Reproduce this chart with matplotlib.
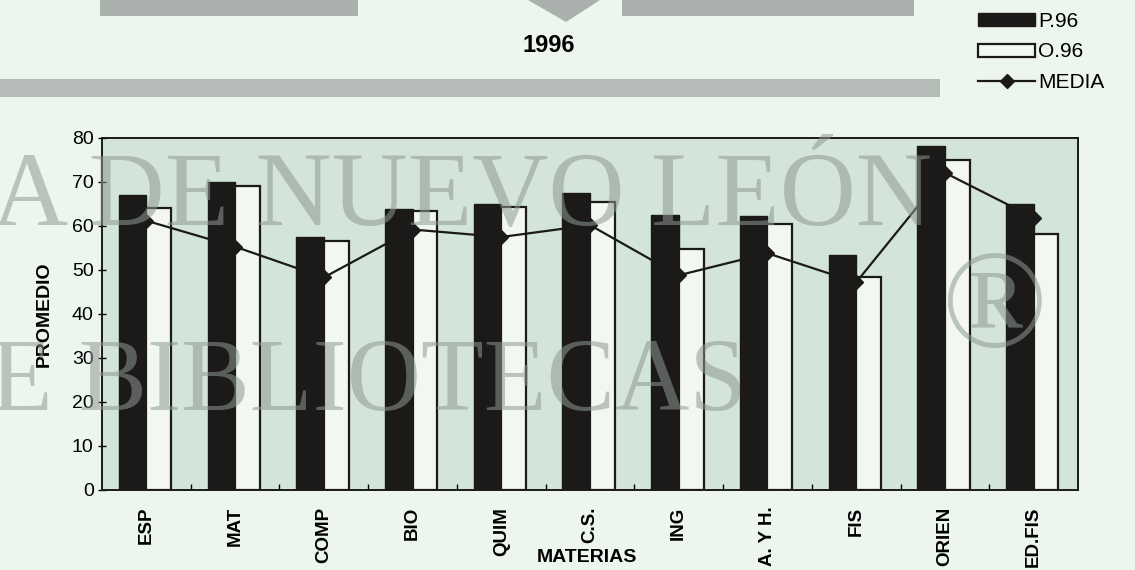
import matplotlib
matplotlib.use("Agg")
import matplotlib.pyplot as plt
import numpy as np
from matplotlib.patches import Rectangle, Polygon
from matplotlib.lines import Line2D

# data
materias = ["ESP", "MAT", "COMP", "BIO", "QUIM", "C.S.", "ING", "A. Y H.", "FIS", "ORIEN", "ED.FIS"]
p96 = [67.0, 70.0, 57.5, 63.8, 65.1, 67.4, 62.5, 62.2, 53.4, 78.2, 65.0]
o96 = [64.2, 69.2, 56.5, 63.5, 64.4, 65.4, 54.7, 60.5, 48.5, 75.1, 58.2]
media = [61.2, 55.3, 48.3, 59.2, 57.5, 60.2, 48.8, 53.8, 47.2, 72.1, 61.9]
yticks = [0, 10, 20, 30, 40, 50, 60, 70, 80]

plt.rcParams["font.family"] = ["Liberation Sans", "DejaVu Sans"]

W, H = 1135, 570
fig = plt.figure(figsize=(W / 100, H / 100), dpi=100, facecolor="#edf5ef")
ax = fig.add_axes([102 / W, 1 - 490 / H, (1078 - 102) / W, (490 - 138) / H])
ax.set_facecolor("#d3e4d9")

ink = "#1b1a18"
x = np.arange(len(materias))
ax.bar(x - 0.155, p96, width=0.31, color=ink, edgecolor=ink, linewidth=1.0, zorder=3)
ax.bar(x + 0.14, o96, width=0.28, color="#f2f8f1", edgecolor=ink, linewidth=1.6, zorder=3)
ax.plot(x, media, color=ink, linewidth=1.6, marker="D", markersize=7.5, zorder=4)

ax.set_xlim(-0.5, len(materias) - 0.5)
ax.set_ylim(0, 80)
ax.set_yticks(yticks)
ax.set_yticklabels([str(v) for v in yticks], fontsize=14)
ax.tick_params(axis="y", direction="inout", length=6, width=1, pad=3)
ax.set_xticks(x)
ax.set_xticklabels(materias, rotation=90, fontsize=13.5, fontweight="bold", va="top")
ax.tick_params(axis="x", length=0, pad=12)
ax.set_xticks(np.arange(0.5, len(materias) - 0.5, 1), minor=True)
ax.tick_params(axis="x", which="minor", direction="in", length=4, width=1)
for s in ax.spines.values():
    s.set_linewidth(1.4)
    s.set_color(ink)

ax.set_ylabel("PROMEDIO", fontsize=14, fontweight="bold", labelpad=14)
fig.text(587 / W, 1 - 558 / H, "MATERIAS", ha="center", va="center", fontsize=14, fontweight="bold")
fig.text(549 / W, 1 - 45 / H, "1996", ha="center", va="center", fontsize=17, fontweight="bold")

handles = [
    Rectangle((0, 0), 1, 1, facecolor=ink, edgecolor=ink),
    Rectangle((0, 0), 1, 1, facecolor="#f2f8f1", edgecolor=ink, linewidth=1.6),
    Line2D([], [], color=ink, linewidth=1.6, marker="D", markersize=7.5),
]
fig.legend(handles, ["P.96", "O.96", "MEDIA"], loc="upper left", bbox_to_anchor=(978 / W, 1 - 12 / H),
           frameon=False, fontsize=15, handlelength=2.75, handleheight=0.6, handletextpad=0.15,
           labelspacing=0.55, borderaxespad=0, borderpad=0)

# scan artefacts: grey watermark letters and band
wm = "#8f9893"
fig.patches.append(Rectangle((0, 1 - 97 / H), 940 / W, 18 / H, transform=fig.transFigure,
                             facecolor="#a7aea9", edgecolor="none", alpha=0.8, zorder=0))
fig.patches.append(Rectangle((100 / W, 1 - 16 / H), 258 / W, 16 / H, transform=fig.transFigure,
                             facecolor="#aab1ac", edgecolor="none", zorder=0))
fig.patches.append(Rectangle((622 / W, 1 - 16 / H), 292 / W, 16 / H, transform=fig.transFigure,
                             facecolor="#aab1ac", edgecolor="none", zorder=0))
fig.patches.append(Polygon([(528 / W, 1), (600 / W, 1), (566 / W, 1 - 22 / H)], closed=True,
                           transform=fig.transFigure, facecolor="#aab1ac", edgecolor="none", zorder=0))
fig.text(-8 / W, 1 - 225 / H, "A DE NUEVO LEÓN", fontsize=76, family="Liberation Serif",
         color=wm, alpha=0.55, ha="left", va="baseline", zorder=10)
fig.text(-10 / W, 1 - 410 / H, "E BIBLIOTECAS", fontsize=74, family="Liberation Serif",
         color=wm, alpha=0.55, ha="left", va="baseline", zorder=10)
fig.text(995 / W, 1 - 313 / H, "®", fontsize=100, family="Liberation Serif",
         color=wm, alpha=0.55, ha="center", va="center", zorder=10)

fig.savefig("out.png", dpi=100, facecolor=fig.get_facecolor())
